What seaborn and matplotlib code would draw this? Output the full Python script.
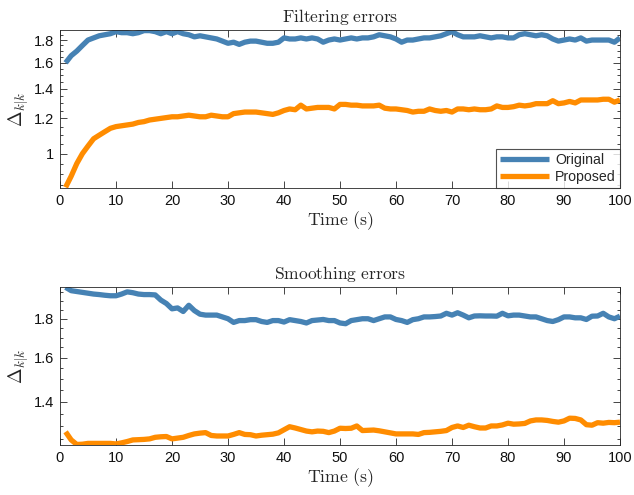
import numpy as np
import pandas as pd
import matplotlib
matplotlib.use("Agg")
import matplotlib.pyplot as plt
import matplotlib.ticker as mticker
import seaborn as sns

time_s = list(range(1, 101))

filt_original = [
    1.60, 1.66, 1.70, 1.75, 1.80, 1.82, 1.84, 1.85, 1.86, 1.88,
    1.87, 1.87, 1.86, 1.87, 1.89, 1.89, 1.88, 1.86, 1.88, 1.86,
    1.88, 1.86, 1.85, 1.83, 1.84, 1.83, 1.82, 1.81, 1.79, 1.77,
    1.78, 1.76, 1.78, 1.79, 1.79, 1.78, 1.77, 1.77, 1.78, 1.82,
    1.81, 1.81, 1.82, 1.81, 1.82, 1.81, 1.78, 1.80, 1.81, 1.80,
    1.81, 1.82, 1.81, 1.82, 1.82, 1.83, 1.85, 1.84, 1.83, 1.81,
    1.78, 1.80, 1.80, 1.81, 1.82, 1.82, 1.83, 1.84, 1.86, 1.88,
    1.85, 1.83, 1.83, 1.83, 1.84, 1.83, 1.82, 1.83, 1.83, 1.82,
    1.82, 1.85, 1.86, 1.85, 1.84, 1.85, 1.84, 1.81, 1.79, 1.80,
    1.81, 1.80, 1.82, 1.79, 1.80, 1.80, 1.80, 1.80, 1.78, 1.82,
]
filt_proposed = [
    0.84, 0.89, 0.95, 1.00, 1.04, 1.08, 1.10, 1.12, 1.14, 1.15,
    1.155, 1.16, 1.165, 1.175, 1.18, 1.19, 1.195, 1.20, 1.205, 1.21,
    1.21, 1.215, 1.22, 1.215, 1.21, 1.21, 1.22, 1.215, 1.21, 1.21,
    1.23, 1.235, 1.24, 1.24, 1.24, 1.235, 1.23, 1.225, 1.235, 1.25,
    1.26, 1.255, 1.285, 1.26, 1.265, 1.27, 1.27, 1.27, 1.26, 1.29,
    1.29, 1.285, 1.285, 1.28, 1.28, 1.28, 1.285, 1.265, 1.26, 1.26,
    1.255, 1.25, 1.24, 1.245, 1.245, 1.26, 1.25, 1.245, 1.25, 1.24,
    1.26, 1.26, 1.255, 1.26, 1.255, 1.255, 1.26, 1.28, 1.27, 1.27,
    1.275, 1.285, 1.28, 1.285, 1.295, 1.295, 1.295, 1.315, 1.295, 1.30,
    1.31, 1.30, 1.32, 1.32, 1.32, 1.32, 1.325, 1.325, 1.305, 1.32,
]
smooth_original = [
    1.98, 1.96, 1.955, 1.95, 1.945, 1.94, 1.937, 1.933, 1.93, 1.93,
    1.94, 1.953, 1.948, 1.94, 1.937, 1.937, 1.935, 1.905, 1.885, 1.855,
    1.86, 1.84, 1.875, 1.845, 1.825, 1.82, 1.82, 1.82, 1.81, 1.80,
    1.78, 1.79, 1.79, 1.795, 1.795, 1.785, 1.78, 1.79, 1.79, 1.782,
    1.795, 1.79, 1.785, 1.777, 1.79, 1.793, 1.796, 1.79, 1.79, 1.777,
    1.773, 1.79, 1.795, 1.80, 1.80, 1.79, 1.80, 1.81, 1.81, 1.796,
    1.79, 1.78, 1.795, 1.80, 1.81, 1.81, 1.812, 1.815, 1.83, 1.82,
    1.833, 1.82, 1.805, 1.815, 1.816, 1.815, 1.815, 1.814, 1.83, 1.816,
    1.82, 1.82, 1.815, 1.81, 1.81, 1.80, 1.79, 1.785, 1.795, 1.81,
    1.81, 1.805, 1.805, 1.796, 1.814, 1.815, 1.83, 1.81, 1.80, 1.814,
]
smooth_proposed = [
    1.277, 1.246, 1.229, 1.23, 1.233, 1.233, 1.233, 1.233, 1.233, 1.231,
    1.235, 1.24, 1.246, 1.247, 1.248, 1.25, 1.256, 1.258, 1.259, 1.25,
    1.253, 1.256, 1.263, 1.269, 1.272, 1.274, 1.263, 1.261, 1.261, 1.261,
    1.267, 1.274, 1.267, 1.266, 1.261, 1.264, 1.266, 1.268, 1.273, 1.285,
    1.297, 1.292, 1.286, 1.28, 1.277, 1.28, 1.279, 1.274, 1.28, 1.291,
    1.29, 1.291, 1.30, 1.282, 1.283, 1.284, 1.281, 1.277, 1.273, 1.269,
    1.269, 1.269, 1.269, 1.267, 1.274, 1.275, 1.277, 1.279, 1.282, 1.294,
    1.30, 1.294, 1.303, 1.297, 1.292, 1.292, 1.30, 1.30, 1.304, 1.311,
    1.307, 1.308, 1.31, 1.32, 1.324, 1.324, 1.322, 1.318, 1.315, 1.32,
    1.331, 1.33, 1.324, 1.305, 1.303, 1.313, 1.311, 1.314, 1.313, 1.315,
]

series_names = ["Original", "Proposed"]
panel_titles = ["Filtering errors", "Smoothing errors"]
x_ticks = [0, 10, 20, 30, 40, 50, 60, 70, 80, 90, 100]
y_ticks_top = [1.0, 1.2, 1.4, 1.6, 1.8]
y_labels_top = ["1", "1.2", "1.4", "1.6", "1.8"]
y_ticks_bot = [1.4, 1.6, 1.8]
y_labels_bot = ["1.4", "1.6", "1.8"]

sns.set_theme(style="ticks")
plt.rcParams["font.family"] = ["Liberation Sans", "DejaVu Sans"]
plt.rcParams["mathtext.fontset"] = "cm"

palette = {"Original": "#4682B4", "Proposed": "#FF8C00"}

df_top = pd.DataFrame({
    "t": time_s * 2,
    "v": filt_original + filt_proposed,
    "s": [series_names[0]] * 100 + [series_names[1]] * 100,
})
df_bot = pd.DataFrame({
    "t": time_s * 2,
    "v": smooth_original + smooth_proposed,
    "s": [series_names[0]] * 100 + [series_names[1]] * 100,
})

fig = plt.figure(figsize=(6.34, 4.95), dpi=100)
ax1 = fig.add_axes([60/634, 1-188/495, 560/634, 158/495])
ax2 = fig.add_axes([60/634, 1-445/495, 560/634, 158/495])

edge = "#262626"
for ax, df, title, yt, yl, ylim, leg in [
    (ax1, df_top, panel_titles[0], y_ticks_top, y_labels_top, (0.837, 1.896), True),
    (ax2, df_bot, panel_titles[1], y_ticks_bot, y_labels_bot, (1.227, 1.982), False),
]:
    sns.lineplot(data=df, x="t", y="v", hue="s", palette=palette, lw=3.8,
                 ax=ax, legend=leg, solid_capstyle="butt")
    ax.set_yscale("log")
    ax.set_xlim(0, 100)
    ax.set_ylim(*ylim)
    ax.set_xticks(x_ticks)
    ax.xaxis.set_major_formatter(mticker.FixedFormatter([str(v) for v in x_ticks]))
    ax.yaxis.set_major_locator(mticker.FixedLocator(yt))
    ax.yaxis.set_major_formatter(mticker.FixedFormatter(yl))
    minors = [round(0.80 + 0.05 * i, 2) for i in range(26)]
    ax.yaxis.set_minor_locator(mticker.FixedLocator(minors))
    ax.yaxis.set_minor_formatter(mticker.NullFormatter())
    ax.tick_params(which="major", direction="in", length=5, width=0.6, color=edge,
                   labelsize=10.5, labelcolor="#111111", top=True, right=True, pad=4)
    ax.tick_params(which="minor", direction="in", length=2.5, width=0.6, color=edge,
                   top=False, right=True, left=True)
    ax.tick_params(axis="x", which="minor", bottom=False, top=False)
    for sp in ax.spines.values():
        sp.set_visible(True)
        sp.set_color(edge)
        sp.set_linewidth(0.6)
    ax.set_title(r"$\mathrm{" + title.replace(" ", r"\ ") + r"}$", fontsize=12.6, pad=6)
    ax.set_xlabel(r"$\mathrm{Time\ (s)}$", fontsize=12.8, labelpad=1)
    ax.set_ylabel(r"$\Delta_{k|k}$", fontsize=13.5, labelpad=2)

leg = ax1.legend(loc="lower right", borderaxespad=0, fontsize=10.2, frameon=True,
                 fancybox=False, edgecolor=edge, handlelength=3.5, borderpad=0.3,
                 labelspacing=0.2, handletextpad=0.4)
leg.get_frame().set_linewidth(0.8)
for h in leg.get_lines():
    h.set_linewidth(3.8)

fig.savefig("out.png", dpi=100)
